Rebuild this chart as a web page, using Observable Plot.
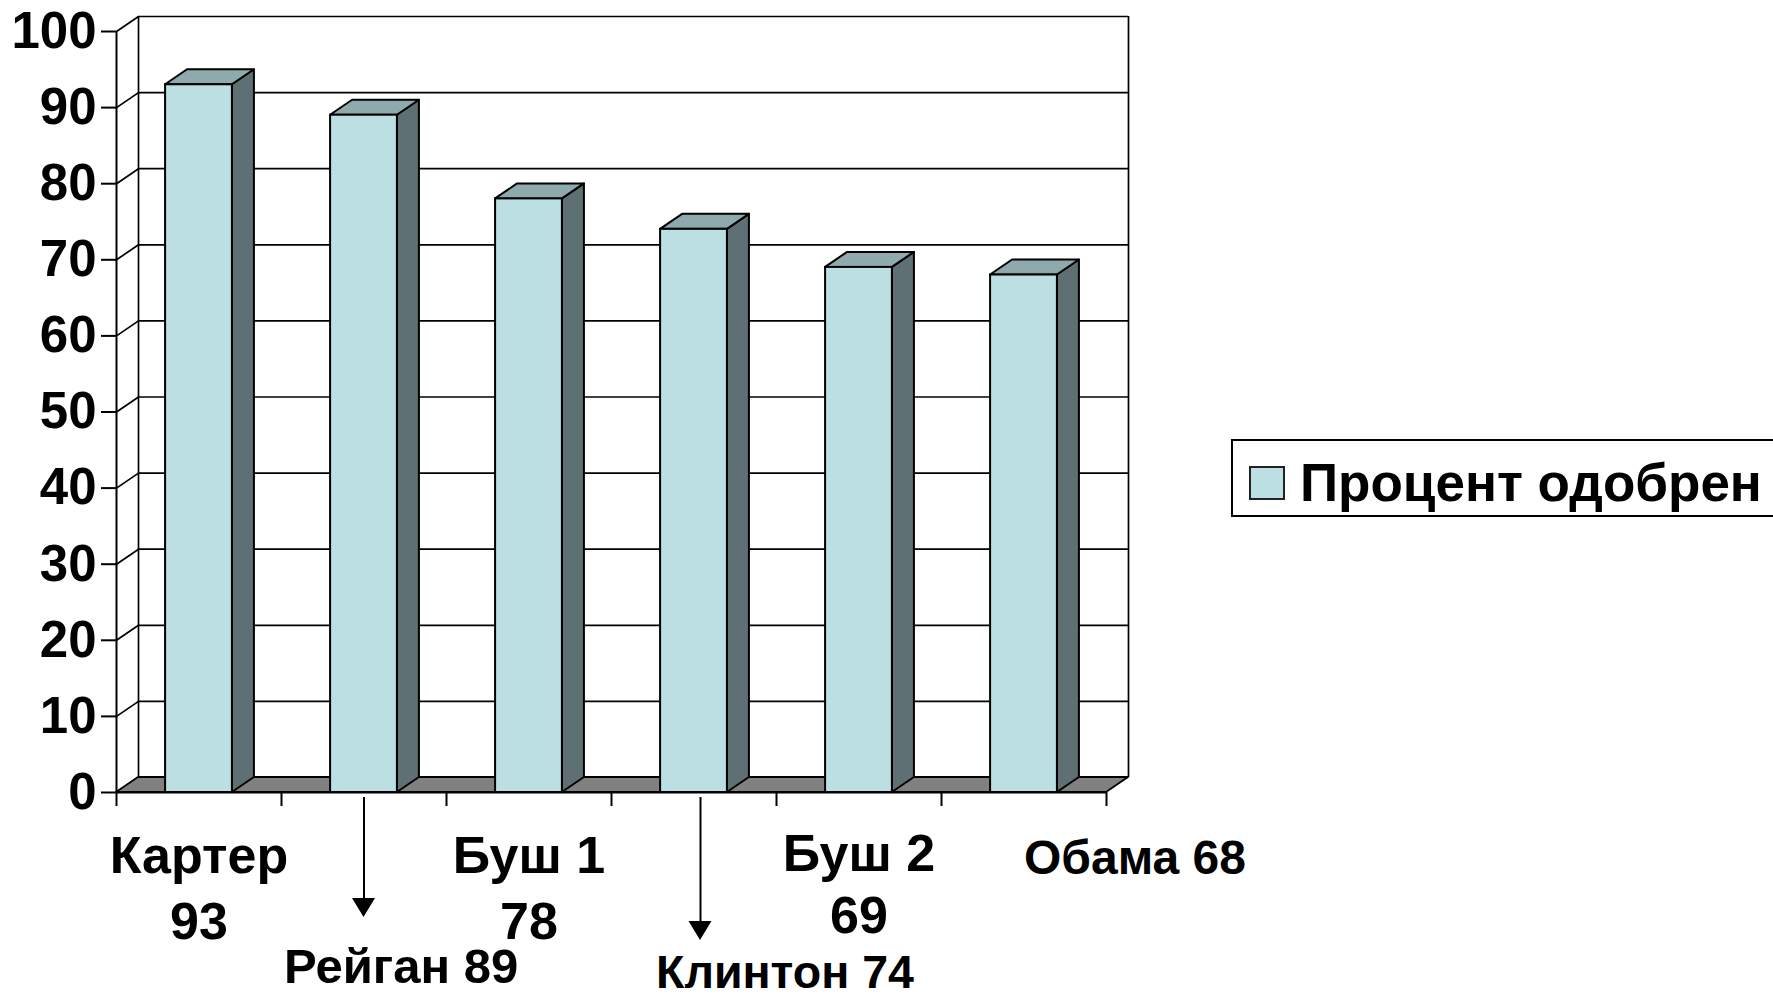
<!DOCTYPE html>
<html>
<head>
<meta charset="utf-8">
<script src="https://cdn.jsdelivr.net/npm/d3@7"></script>
<script src="https://cdn.jsdelivr.net/npm/@observablehq/plot@0.6"></script>
<style>
  html, body { margin: 0; padding: 0; background: #fff; overflow: hidden; width: 1773px; height: 1000px; }
  #chart { position: absolute; left: 0; top: 0; }
  #chart svg text { font-weight: bold; fill: #000; }
  #legend { position: absolute; left: 1231px; top: 439px; width: 700px; height: 74px;
    border: 2px solid #000; background: #fff;
    font-family: "Liberation Sans", Arial, sans-serif; font-weight: bold; font-size: 53px; color: #000; }
  #legend .sw { position: absolute; left: 16px; top: 25px; width: 32px; height: 30px;
    border: 2px solid #222; background: #BBDFE2; }
  #legend .lb { position: absolute; left: 67px; top: 15px; line-height: 53px; white-space: nowrap; }
</style>
</head>
<body>
<div id="chart"></div>
<div id="legend"><div class="sw"></div><div class="lb" id="legendText"></div></div>
<script>
// ---- data ----
const names = ["Картер", "Рейган", "Буш 1", "Клинтон", "Буш 2", "Обама"];
const values = [93, 89, 78, 74, 69, 68];
const yTicks = [0, 10, 20, 30, 40, 50, 60, 70, 80, 90, 100];
const labelTexts = ["Картер\n93", "Рейган 89", "Буш 1\n78", "Клинтон 74", "Буш 2\n69", "Обама 68"];
const legendLabel = "Процент одобрен";

// ---- layout / style ----
const W = 1773, H = 1000;
const mL = 116, mR = 667, mT = 31, mB = 208;
const plotW = W - mL - mR, plotH = H - mT - mB;
const nCat = names.length;
const pxX = nCat / plotW, pxY = 100 / plotH;   // data units per pixel
const DX = 22, DY = 15;                          // 3-D depth in pixels
const dxU = DX * pxX, dyU = DY * pxY;
const halfBar = 0.2025;
const cFront = "#BBDFE2", cSide = "#5E7073", cTop = "#8FAAAD", cFloor = "#808080";

const bars = names.map((n, i) => ({name: n, value: values[i], x1: i + 0.5 - halfBar, x2: i + 0.5 + halfBar}));
const sides = bars.flatMap(b => [
  {name: b.name, x: b.x2, y1: 0, y2: b.value},
  {name: b.name, x: b.x2 + dxU, y1: dyU, y2: b.value + dyU}
]);
const tops = bars.flatMap(b => [
  {name: b.name, x: b.x1, y1: b.value, y2: b.value},
  {name: b.name, x: b.x1 + dxU, y1: b.value, y2: b.value + dyU},
  {name: b.name, x: b.x2, y1: b.value, y2: b.value + dyU},
  {name: b.name, x: b.x2 + dxU, y1: b.value + dyU, y2: b.value + dyU}
]);
const floor = [
  {x: 0, y1: 0, y2: 0},
  {x: dxU, y1: 0, y2: dyU},
  {x: nCat, y1: 0, y2: dyU},
  {x: nCat + dxU, y1: dyU, y2: dyU}
];

// label placement (pixels relative to band centre / axis)
const labelStyle = [
  {anchor: "middle", dx: 0,   dy: 34,  size: 52,   lh: 1.27},
  {anchor: "start",  dx: -80, dy: 146, size: 49,   lh: 1.27},
  {anchor: "middle", dx: 0,   dy: 34,  size: 52,   lh: 1.27},
  {anchor: "start",  dx: -38, dy: 154, size: 46.5, lh: 1.27},
  {anchor: "middle", dx: 0,   dy: 34,  size: 52,   lh: 1.2},
  {anchor: "start",  dx: 0,   dy: 38,  size: 48,   lh: 1.27}
];
// arrows: index of category, pixel shift, tip distance below axis
const arrowSpec = [
  {i: 1, shift: 0,   tip: 125},
  {i: 3, shift: 6.5, tip: 148}
];
const arrowShafts = arrowSpec.map(a => ({x: a.i + 0.5 + a.shift * pxX, y1: -5 * pxY, y2: -(a.tip - 15) * pxY}));
const arrowHeads = arrowSpec.flatMap(a => {
  const cx = a.i + 0.5 + a.shift * pxX;
  return [
    {k: a.i, y: -(a.tip - 19) * pxY, x1: cx - 11.5 * pxX, x2: cx + 11.5 * pxX},
    {k: a.i, y: -a.tip * pxY, x1: cx, x2: cx}
  ];
});

const labelMarks = labelTexts.map((t, i) => Plot.text([t], {
  x: () => i + 0.5, y: () => 0, text: d => d,
  textAnchor: labelStyle[i].anchor, lineAnchor: "top",
  dx: labelStyle[i].dx, dy: labelStyle[i].dy,
  fontSize: labelStyle[i].size, fontWeight: "bold", lineHeight: labelStyle[i].lh, fill: "#000"
}));

const chart = Plot.plot({
  width: W, height: H,
  marginLeft: mL, marginRight: mR, marginTop: mT, marginBottom: mB,
  style: {fontFamily: "'Liberation Sans', Arial, sans-serif", color: "#000", background: "#fff"},
  x: {domain: [0, nCat], axis: null},
  y: {domain: [0, 100], axis: null},
  marks: [
    // back wall
    Plot.ruleY(yTicks, {y: d => d, x1: 0, x2: nCat, dx: DX, dy: -DY, stroke: "#000", strokeWidth: 1.7}),
    Plot.ruleX([0, nCat], {x: d => d, y1: 0, y2: 100, dx: DX, dy: -DY, stroke: "#000", strokeWidth: 1.7}),
    Plot.link(yTicks, {x1: 0, y1: d => d, x2: dxU, y2: d => d + dyU, stroke: "#000", strokeWidth: 1.7}),
    // floor
    Plot.area(floor, {x1: "x", y1: "y1", y2: "y2", fill: cFloor, stroke: "#000", strokeWidth: 1.8}),
    // front axes
    Plot.ruleX([0], {x: d => d, y1: 0, y2: 100, stroke: "#000", strokeWidth: 2}),
    Plot.axisY({ticks: yTicks, tickSize: 15, tickPadding: 5, fontSize: 51, fontWeight: "bold",
      label: null, stroke: "#000", strokeWidth: 2, tickFormat: d => String(d)}),
    Plot.ruleX(d3.range(nCat + 1), {x: d => d, y1: 0, y2: -14 * pxY, stroke: "#000", strokeWidth: 2}),
    Plot.ruleY([0], {y: d => d, x1: 0, x2: nCat, stroke: "#000", strokeWidth: 2}),
    // bars
    Plot.area(sides, {x1: "x", y1: "y1", y2: "y2", z: "name", fill: cSide, stroke: "#000", strokeWidth: 2, strokeLinejoin: "round"}),
    Plot.area(tops, {x1: "x", y1: "y1", y2: "y2", z: "name", fill: cTop, stroke: "#000", strokeWidth: 2, strokeLinejoin: "round"}),
    Plot.rect(bars, {x1: "x1", x2: "x2", y1: 0, y2: "value", fill: cFront, stroke: "#000", strokeWidth: 2}),
    // arrows
    Plot.ruleX(arrowShafts, {x: "x", y1: "y1", y2: "y2", stroke: "#000", strokeWidth: 2}),
    Plot.areaX(arrowHeads, {y: "y", x1: "x1", x2: "x2", z: "k", fill: "#000"}),
    // labels
    ...labelMarks
  ]
});
document.getElementById("chart").appendChild(chart);
document.getElementById("legendText").textContent = legendLabel;
</script>
</body>
</html>
